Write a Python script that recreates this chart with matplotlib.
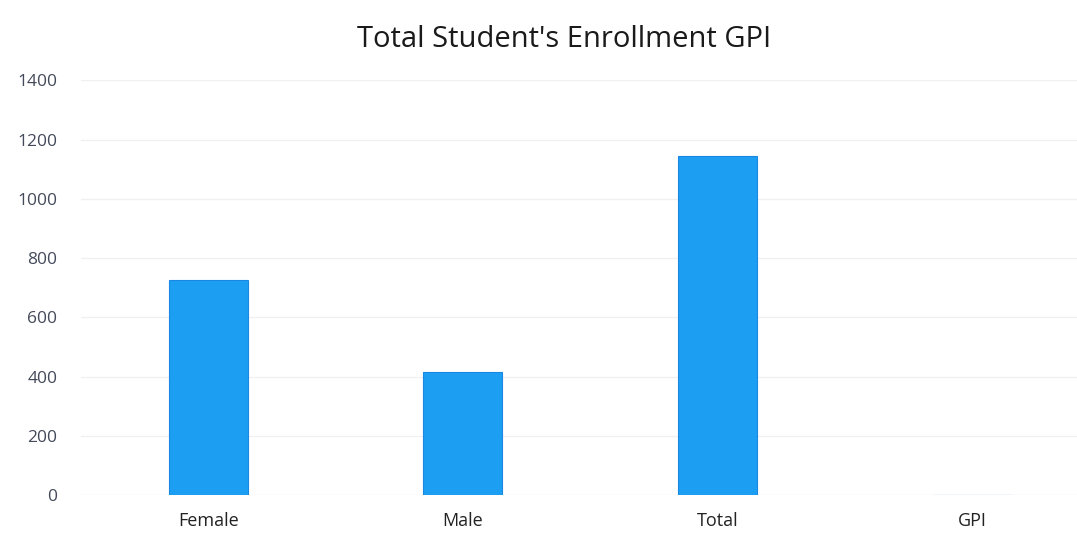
import matplotlib
matplotlib.use('Agg')
import matplotlib.pyplot as plt

categories = ['Female', 'Male', 'Total', 'GPI']
values = [727, 415, 1144, 0.57]
yticks = [0, 200, 400, 600, 800, 1000, 1200, 1400]

plt.rcParams['font.family'] = ['Open Sans', 'DejaVu Sans']

fig = plt.figure(figsize=(10.77, 5.46), dpi=100)
ax = fig.add_axes([0.075, 0.0934, 0.925, 0.7596])

ax.bar(range(len(categories)), values, width=0.31, color='#1C9FF2',
       edgecolor='#1a88e2', linewidth=0.8, zorder=3)

ax.set_xlim(-0.5, 3.41)
ax.set_ylim(0, 1400)
ax.set_yticks(yticks)
ax.set_yticklabels([str(t) for t in yticks], fontsize=12.5, color='#444a5a')
ax.set_xticks(range(len(categories)))
ax.set_xticklabels(categories, fontsize=13, color='#222222')
ax.tick_params(length=0)
ax.tick_params(axis='x', pad=12)
ax.tick_params(axis='y', pad=17)
ax.grid(axis='y', color='#f0f0f0', linewidth=1, zorder=0)
for s in ax.spines.values():
    s.set_visible(False)

fig.text(0.524, 0.928, "Total Student's Enrollment GPI", ha='center', va='center',
         fontsize=21, color='#1a1a1a', fontweight='medium')

fig.savefig('out.png', dpi=100, facecolor='white')
